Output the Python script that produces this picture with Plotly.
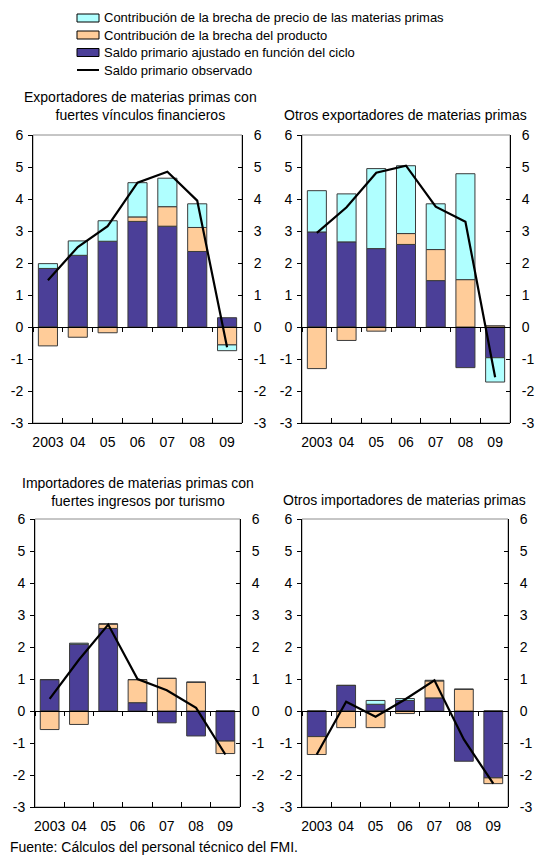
import plotly.graph_objects as go

years = ["2003", "04", "05", "06", "07", "08", "09"]
y_ticks = [-3, -2, -1, 0, 1, 2, 3, 4, 5, 6]
y_tick_labels = ["-3", "-2", "-1", "0", "1", "2", "3", "4", "5", "6"]

titles = [
    "Exportadores de materias primas con<br>fuertes vínculos financieros",
    "Otros exportadores de materias primas",
    "Importadores de materias primas con<br>fuertes ingresos por turismo",
    "Otros importadores de materias primas",
]

names = [
    "Contribución de la brecha de precio de las materias primas",
    "Contribución de la brecha del producto",
    "Saldo primario ajustado en función del ciclo",
    "Saldo primario observado",
]

# Panel 1
p1_cyclical = [1.83, 2.24, 2.68, 3.30, 3.15, 2.36, 0.29]
p1_output = [-0.59, -0.32, -0.18, 0.14, 0.61, 0.75, -0.56]
p1_commodity = [0.15, 0.45, 0.64, 1.07, 0.89, 0.74, -0.18]
p1_observed = [1.46, 2.50, 3.15, 4.51, 4.85, 3.95, -0.63]

# Panel 2
p2_cyclical = [2.97, 2.66, 2.45, 2.58, 1.45, -1.27, -0.96]
p2_output = [-1.30, -0.42, -0.13, 0.34, 0.97, 1.48, 0.04]
p2_commodity = [1.29, 1.50, 2.50, 2.12, 1.43, 3.31, -0.76]
p2_observed = [2.94, 3.74, 4.82, 5.04, 3.76, 3.29, -1.57]

# Panel 3
p3_cyclical = [0.98, 2.09, 2.58, 0.26, -0.37, -0.78, -0.94]
p3_output = [-0.58, -0.42, 0.14, 0.72, 1.02, 0.90, -0.39]
p3_commodity = [0.0, 0.03, 0.0, 0.0, 0.0, 0.0, 0.0]
p3_observed = [0.38, 1.60, 2.70, 1.00, 0.65, 0.10, -1.36]

# Panel 4
p4_cyclical = [-0.80, 0.80, 0.21, 0.33, 0.41, -1.57, -2.09]
p4_output = [-0.56, -0.52, -0.52, -0.08, 0.53, 0.68, -0.18]
p4_commodity = [0.0, 0.0, 0.12, 0.06, 0.02, 0.0, 0.0]
p4_observed = [-1.36, 0.29, -0.18, 0.36, 0.96, -0.89, -2.27]

panels = [
    (p1_cyclical, p1_output, p1_commodity, p1_observed),
    (p2_cyclical, p2_output, p2_commodity, p2_observed),
    (p3_cyclical, p3_output, p3_commodity, p3_observed),
    (p4_cyclical, p4_output, p4_commodity, p4_observed),
]

W, H = 536, 858
YMIN, YMAX = -3, 6

def px_x(v):
    return v / W

def px_y(v):
    return 1 - v / H

x_domains = [
    [px_x(33), px_x(242)],
    [px_x(302), px_x(510)],
    [px_x(35), px_x(240)],
    [px_x(302), px_x(508)],
]
y_domains = [
    [px_y(423), px_y(135)],
    [px_y(423), px_y(135)],
    [px_y(807), px_y(519)],
    [px_y(807), px_y(519)],
]

NAVY = "#4B3F98"
ORANGE = "#FFCC99"
CYAN = "#B0FFFF"
EDGE = "#3A3A3A"
FONT = "Liberation Sans, Arial, sans-serif"
series_colors = [CYAN, ORANGE, NAVY]

fig = go.Figure()
layout = {}
shapes = []
annotations = []

for i, (cyc, outp, comm, obs) in enumerate(panels):
    n = i + 1
    sfx = "" if n == 1 else str(n)
    sfxo = str(n + 4)
    xa, ya = "x" + sfx, "y" + sfx
    xo, yo = "x" + sfxo, "y" + sfxo
    fig.add_trace(go.Bar(x=years, y=cyc, name=names[2], marker=dict(color=NAVY, line=dict(color=EDGE, width=1)),
                         xaxis=xa, yaxis=ya, showlegend=False))
    fig.add_trace(go.Bar(x=years, y=outp, name=names[1], marker=dict(color=ORANGE, line=dict(color=EDGE, width=1)),
                         xaxis=xa, yaxis=ya, showlegend=False))
    fig.add_trace(go.Bar(x=years, y=comm, name=names[0], marker=dict(color=CYAN, line=dict(color=EDGE, width=1)),
                         xaxis=xa, yaxis=ya, showlegend=False))
    fig.add_trace(go.Scatter(x=years, y=obs, name=names[3], mode="lines", line=dict(color="black", width=2.2),
                             xaxis=xo, yaxis=yo, showlegend=False))

    xd, yd = x_domains[i], y_domains[i]
    zero_pos = yd[0] + (0 - YMIN) / (YMAX - YMIN) * (yd[1] - yd[0])

    layout[f"xaxis{sfx}"] = dict(
        domain=xd, anchor=ya, type="category", categoryarray=years, range=[-0.5, 6.5],
        showline=True, linecolor="black", linewidth=1, ticks="inside", ticklen=5, tickcolor="black",
        tickson="boundaries", showgrid=False, zeroline=False, tickfont=dict(size=14, color="black", family=FONT),
        tickangle=0, ticklabelstandoff=6, automargin=False, fixedrange=True,
    )
    layout[f"yaxis{sfx}"] = dict(
        domain=yd, anchor=xa, range=[YMIN, YMAX], tickvals=y_ticks, ticktext=y_tick_labels,
        showline=True, linecolor="black",
        linewidth=1, ticks="outside", ticklen=4, tickcolor="black", showgrid=False, zeroline=False,
        tickfont=dict(size=14, color="black", family=FONT), ticklabelstandoff=2, automargin=False,
    )
    layout[f"xaxis{sfxo}"] = dict(
        overlaying=xa, anchor="free", position=zero_pos, type="category", categoryarray=years,
        range=[-0.5, 6.5], showline=True, linecolor="black", linewidth=1, ticks="outside", ticklen=4,
        tickcolor="black", tickson="boundaries", showticklabels=False, showgrid=False, zeroline=False,
        automargin=False,
    )
    layout[f"yaxis{sfxo}"] = dict(
        overlaying=ya, anchor="free", position=xd[1], side="right", range=[YMIN, YMAX], tickvals=y_ticks,
        ticktext=y_tick_labels,
        showline=True, linecolor="black", linewidth=1, ticks="inside", ticklen=4, tickcolor="black",
        showgrid=False, zeroline=False, tickfont=dict(size=14, color="black", family=FONT),
        ticklabelstandoff=8, automargin=False,
    )
    shapes.append(dict(type="rect", xref=f"{xa} domain", yref=f"{ya} domain", x0=0, x1=1, y0=0, y1=1,
                       line=dict(color="#8C8C8C", width=1), layer="below"))

# manual legend (swatches + labels)
leg_rows = [18, 35, 52.5, 70]
for k in range(3):
    yc = leg_rows[k]
    shapes.append(dict(type="rect", xref="paper", yref="paper", x0=px_x(77), x1=px_x(99),
                       y0=px_y(yc + 4), y1=px_y(yc - 4), fillcolor=series_colors[k],
                       line=dict(color="black", width=1)))
shapes.append(dict(type="line", xref="paper", yref="paper", x0=px_x(77), x1=px_x(99),
                   y0=px_y(leg_rows[3]), y1=px_y(leg_rows[3]), line=dict(color="black", width=2)))
for k in range(4):
    annotations.append(dict(text=names[k], x=px_x(102), y=px_y(leg_rows[k]), xanchor="left",
                            yanchor="middle", font=dict(size=13, color="black", family=FONT)))

# panel titles and source
for a in [
    dict(text=titles[0], x=px_x(140), y=px_y(106), xanchor="center", yanchor="middle"),
    dict(text=titles[1], x=px_x(405), y=px_y(115), xanchor="center", yanchor="middle"),
    dict(text=titles[2], x=px_x(138), y=px_y(492), xanchor="center", yanchor="middle"),
    dict(text=titles[3], x=px_x(404), y=px_y(500), xanchor="center", yanchor="middle"),
    dict(text="Fuente: Cálculos del personal técnico del FMI.", x=px_x(8), y=px_y(847),
         xanchor="left", yanchor="middle"),
]:
    a["font"] = dict(size=14, color="black", family=FONT)
    annotations.append(a)
for a in annotations:
    a.update(xref="paper", yref="paper", showarrow=False)

fig.update_layout(
    template="none",
    width=W, height=H,
    margin=dict(l=0, r=0, t=0, b=0),
    paper_bgcolor="white", plot_bgcolor="white",
    barmode="relative", bargap=0.36,
    font=dict(family=FONT, color="black"),
    showlegend=False,
    shapes=shapes,
    annotations=annotations,
    **layout,
)

fig.write_html("out.html", config={"displayModeBar": False, "staticPlot": True},
               post_script="document.body.style.margin='0';document.body.style.overflow='hidden';")
